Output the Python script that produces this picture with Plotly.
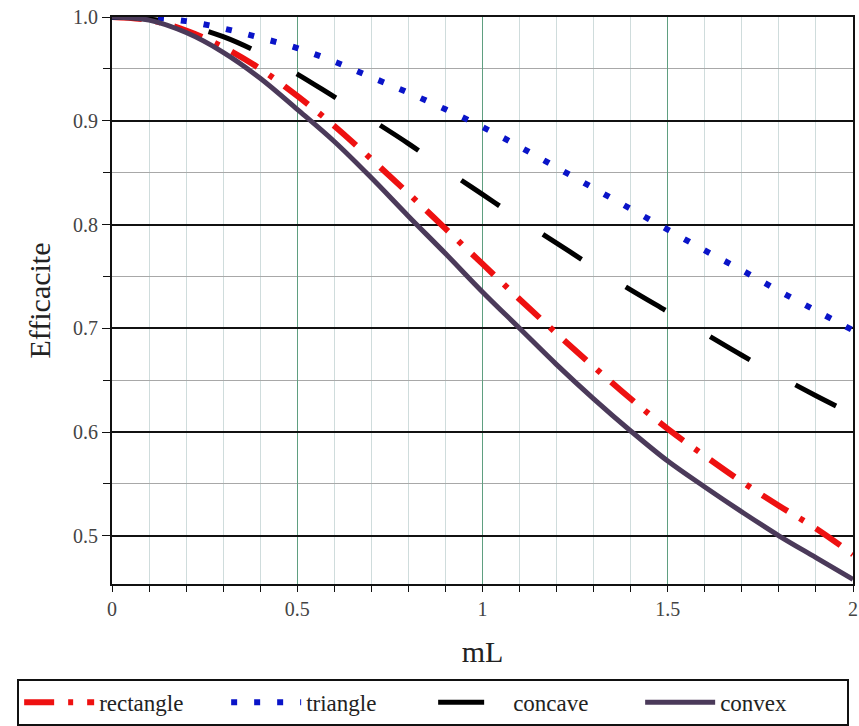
import plotly.graph_objects as go

mL = [0.0, 0.1, 0.2, 0.3, 0.4, 0.5, 0.6, 0.7, 0.8, 0.9, 1.0,
      1.1, 1.2, 1.3, 1.4, 1.5, 1.6, 1.7, 1.8, 1.9, 2.0]
rectangle = [1.0, 0.997, 0.987, 0.971, 0.950, 0.924, 0.895, 0.863, 0.830, 0.796, 0.762,
             0.728, 0.695, 0.663, 0.632, 0.603, 0.577, 0.552, 0.529, 0.507, 0.482]
triangle = [1.0, 0.9995, 0.996, 0.989, 0.980, 0.970, 0.957, 0.942, 0.927, 0.911, 0.894,
            0.875, 0.855, 0.835, 0.815, 0.795, 0.775, 0.756, 0.736, 0.717, 0.698]
concave = [1.0, 0.998, 0.992, 0.981, 0.965, 0.945, 0.923, 0.901, 0.878, 0.853, 0.829,
           0.805, 0.782, 0.759, 0.737, 0.716, 0.695, 0.674, 0.654, 0.635, 0.617]
convex = [1.0, 0.997, 0.985, 0.966, 0.941, 0.911, 0.880, 0.845, 0.808, 0.772, 0.735,
          0.700, 0.665, 0.632, 0.601, 0.572, 0.547, 0.523, 0.500, 0.479, 0.458]

series = [
    ("rectangle", rectangle, "#ee1111", "30px,14px,5px,14px", 6),
    ("triangle", triangle, "#0a14c8", "6px,17px", 6),
    ("concave", concave, "#000000", "46px,52px", 5),
    ("convex", convex, "#4b3a5a", "solid", 5),
]

fig = go.Figure()
for name, ys, color, dash, w in series:
    fig.add_trace(go.Scatter(x=mL, y=ys, name=name, mode="lines",
                             line=dict(color=color, dash=dash, width=w, shape="spline")))

serif = "Times New Roman, Liberation Serif, DejaVu Serif, serif"
fig.update_layout(
    width=859, height=726,
    margin=dict(l=112, r=6, t=17, b=142, autoexpand=False),
    paper_bgcolor="white", plot_bgcolor="white",
    font=dict(family=serif, color="#222"),
    showlegend=True,
    legend=dict(orientation="h", xref="paper", yref="paper",
                x=-0.128, xanchor="left", y=-0.167, yanchor="top",
                bordercolor="#111", borderwidth=2,
                font=dict(family=serif, size=23, color="#222"),
                entrywidth=122, itemwidth=70, traceorder="normal"),
    xaxis=dict(range=[0, 2], tickmode="array", tickvals=[0, 0.5, 1, 1.5, 2],
               ticktext=["0", "0.5", "1", "1.5", "2"],
               showgrid=True, gridcolor="#5f9f80", gridwidth=1,
               minor=dict(dtick=0.1, tick0=0, showgrid=True, gridcolor="#cfdcdc", gridwidth=1,
                          ticks="outside", ticklen=6, tickcolor="#111"),
               ticks="outside", ticklen=6, tickcolor="#111",
               showline=True, linecolor="#111", linewidth=2, mirror=True,
               zeroline=False,
               tickfont=dict(family=serif, size=20, color="#444"),
               title=dict(text="mL", font=dict(family=serif, size=30, color="#222"), standoff=22)),
    yaxis=dict(range=[0.4535, 1.0], tickmode="array",
               tickvals=[0.5, 0.6, 0.7, 0.8, 0.9, 1.0],
               ticktext=["0.5", "0.6", "0.7", "0.8", "0.9", "1.0"],
               showgrid=True, gridcolor="#111", gridwidth=2,
               minor=dict(tickvals=[0.55, 0.65, 0.75, 0.85, 0.95], showgrid=True,
                          gridcolor="#a8a8a8", gridwidth=1,
                          ticks="outside", ticklen=7, tickcolor="#111"),
               ticks="outside", ticklen=8, tickcolor="#111",
               showline=True, linecolor="#111", linewidth=2, mirror=True,
               zeroline=False,
               tickfont=dict(family=serif, size=20, color="#444"),
               title=dict(text="Efficacite", font=dict(family=serif, size=30, color="#222"), standoff=14)),
)

fig.write_html("out.html")
